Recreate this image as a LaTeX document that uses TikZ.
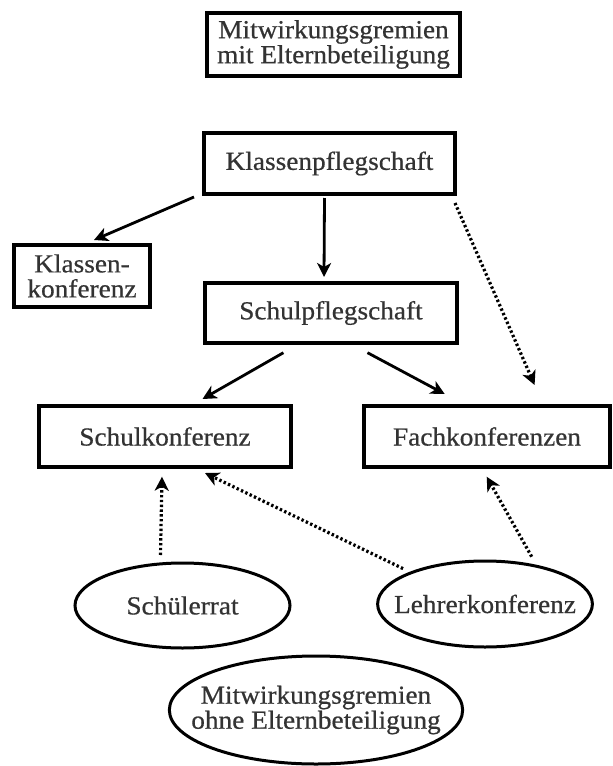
\documentclass[tikz,border=0pt]{standalone}
\usepackage{fontspec}
\setmainfont[FakeStretch=1.05, FakeBold=0.6]{Liberation Serif}
\usepackage{tikz}
\usetikzlibrary{shapes.geometric,arrows.meta}

\begin{document}
\begin{tikzpicture}[x=1pt, y=-1pt,
    every node/.style={font=\fontsize{26}{25}\selectfont, text=black!80, align=center, inner sep=0pt, outer sep=0pt},
    box/.style={draw, line width=3.2pt, minimum width=#1, minimum height=61pt},
    oval/.style={draw, ellipse, line width=3pt},
    arr/.style={line width=2.8pt, -{Stealth[length=14pt, width=14pt, inset=4pt]}},
    dotarr/.style={line width=3.2pt, dash pattern=on 2.4pt off 2.4pt, -{Stealth[length=14pt, width=14pt, inset=4pt]}}]
    \useasboundingbox (0, 0) rectangle (613, 766);

    \node[box=253pt, minimum height=63pt] (mit) at (333.5, 44.5) {Mitwirkungsgremien\\mit Elternbeteiligung};
    \node[box=251pt] (kpf) at (329.5, 163.5) {Klassenpflegschaft};
    \node[box=136pt, minimum height=62pt] (kk) at (82, 276) {Klassen-\\konferenz};
    \node[box=252pt, minimum height=60pt] (spf) at (331, 313) {Schulpflegschaft};
    \node[box=252pt] (sk) at (165, 436.5) {Schulkonferenz};
    \node[box=246pt] (fk) at (487, 436.5) {Fachkonferenzen};

    \node[oval, inner xsep=-6pt, minimum width=215pt, minimum height=85pt] (sr) at (182.5, 605.5) {Schülerrat};
    \node[oval, inner xsep=-15pt, minimum width=214pt, minimum height=86pt] (lk) at (485, 604) {Lehrerkonferenz};
    \node[oval, inner xsep=-21pt, inner ysep=-4pt, minimum width=282pt, minimum height=108pt] (ohne) at (316, 710) {Mitwirkungsgremien\\ohne Elternbeteiligung};

    % solid arrows
    \draw[arr] ([xshift=-10pt, yshift=-3pt]kpf.south west) -- ([xshift=12pt, yshift=5pt]kk.north);
    \draw[arr] ([xshift=-5pt, yshift=-4pt]kpf.south) -- ([xshift=-7pt, yshift=6pt]spf.north);
    \draw[arr] ([xshift=-47.6pt, yshift=-9.7pt]spf.south) -- ([xshift=37.5pt, yshift=7pt]sk.north);
    \draw[arr] ([xshift=36.5pt, yshift=-9.7pt]spf.south) -- ([xshift=-42.3pt, yshift=12pt]fk.north);

    % dotted arrows
    \draw[dotarr] ([yshift=-9pt]kpf.south east) -- ([xshift=47.6pt, yshift=21pt]fk.north);
    \draw[dotarr] ([xshift=-22pt, yshift=8pt]sr.north) -- ([xshift=-3pt, yshift=-9.7pt]sk.south);
    \draw[dotarr] ([xshift=-6pt, yshift=5pt]lk.north west) -- ([xshift=40pt, yshift=-6pt]sk.south);
    \draw[dotarr] ([xshift=46.7pt, yshift=4.3pt]lk.north) -- ([xshift=-0.3pt, yshift=-9.7pt]fk.south);
\end{tikzpicture}
\end{document}
